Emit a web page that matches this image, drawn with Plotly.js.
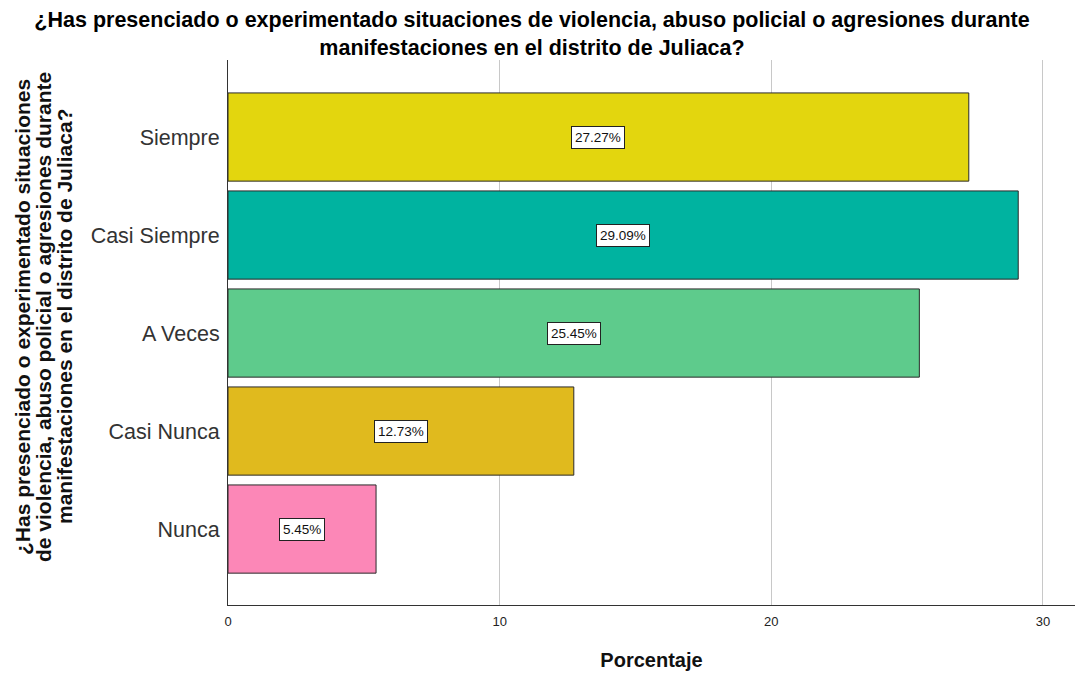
<!DOCTYPE html>
<html>
<head>
<meta charset="utf-8">
<script src="https://cdn.plot.ly/plotly-3.0.1.min.js"></script>
<style>html,body{margin:0;padding:0;background:#fff;}#chart{width:1077px;height:674px;}</style>
</head>
<body>
<div id="chart"></div>
<script>
const categories = ["Siempre", "Casi Siempre", "A Veces", "Casi Nunca", "Nunca"];
const percentages = [27.27, 29.09, 25.45, 12.73, 5.45];
const barColors = ["#e3d60e", "#00b3a0", "#5ecb8c", "#e0ba1e", "#fc87b7"];
const xTicks = [0, 10, 20, 30];
const yTitleLines = [
  "¿Has presenciado o experimentado situaciones",
  "de violencia, abuso policial o agresiones durante",
  "manifestaciones en el distrito de Juliaca?"
];

const sans = "'Liberation Sans', Arial, sans-serif";

const trace = {
  type: "bar",
  orientation: "h",
  x: percentages,
  y: categories,
  width: 0.9,
  marker: {color: barColors, line: {color: "#2a2a2a", width: 1}},
  hoverinfo: "skip"
};

const labelAnnotations = categories.map((c, i) => ({
  x: percentages[i] / 2,
  y: c,
  xref: "x",
  yref: "y",
  text: percentages[i].toFixed(2) + "%",
  showarrow: false,
  bgcolor: "#ffffff",
  bordercolor: "#222222",
  borderwidth: 1,
  borderpad: 3,
  font: {family: sans, size: 13.5, color: "#111111"}
}));

const yTitleX = [22, 43, 64];
const yTitleAnnotations = yTitleLines.map((t, i) => ({
  text: t,
  xref: "paper",
  yref: "paper",
  x: (yTitleX[i] - 228) / 847,
  y: (605 - 317) / 545,
  xanchor: "center",
  yanchor: "middle",
  textangle: -90,
  showarrow: false,
  font: {family: sans, size: 21, color: "#111111", weight: "bold"}
}));

const layout = {
  width: 1077,
  height: 674,
  margin: {l: 228, r: 2, t: 60, b: 69},
  paper_bgcolor: "#ffffff",
  plot_bgcolor: "#ffffff",
  showlegend: false,
  title: {
    text: "¿Has presenciado o experimentado situaciones de violencia, abuso policial o agresiones durante<br>manifestaciones en el distrito de Juliaca?",
    font: {family: sans, size: 21.5, color: "#000000", weight: "bold"},
    xref: "container",
    x: 532 / 1077,
    xanchor: "center",
    yref: "container",
    y: (674 - 27) / 674,
    yanchor: "middle"
  },
  xaxis: {
    range: [0, 31.18],
    tickvals: xTicks,
    ticktext: xTicks.map(String),
    showgrid: true,
    gridcolor: "#c8c8c8",
    gridwidth: 1,
    zeroline: false,
    showline: true,
    linecolor: "#333333",
    linewidth: 1,
    ticks: "",
    ticklabelstandoff: 4,
    tickfont: {family: sans, size: 13, color: "#222222"},
    title: {text: "Porcentaje", font: {family: sans, size: 20, color: "#111111", weight: "bold"}, standoff: 25},
    automargin: false,
    fixedrange: true
  },
  yaxis: {
    type: "category",
    categoryorder: "array",
    categoryarray: categories,
    range: [4.775, -0.786],
    showgrid: false,
    zeroline: false,
    showline: true,
    linecolor: "#333333",
    linewidth: 1,
    ticks: "",
    ticklabelstandoff: 3,
    tickfont: {family: sans, size: 21.5, color: "#333333"},
    automargin: false,
    fixedrange: true
  },
  annotations: labelAnnotations.concat(yTitleAnnotations)
};

Plotly.newPlot("chart", [trace], layout, {displayModeBar: false, staticPlot: true});
</script>
</body>
</html>
